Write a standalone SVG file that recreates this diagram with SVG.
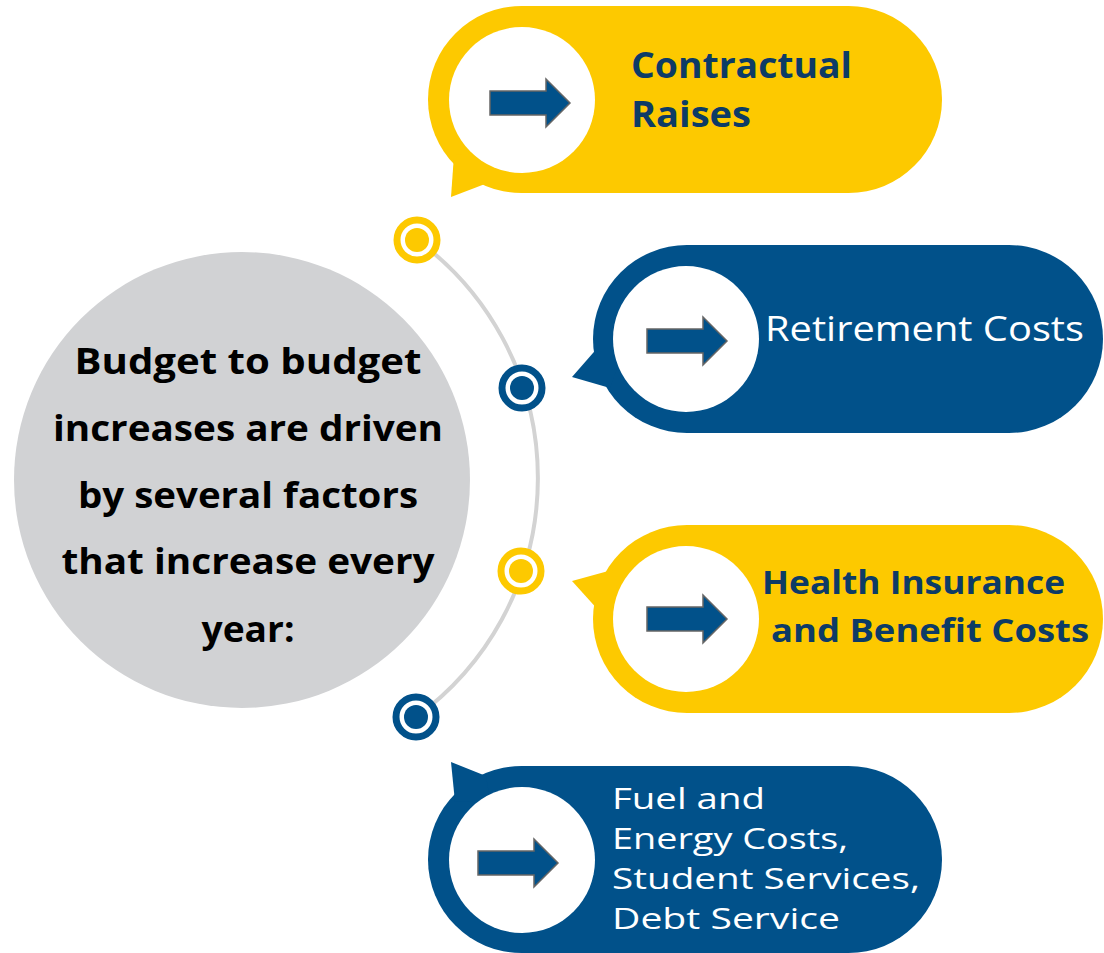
<svg xmlns="http://www.w3.org/2000/svg" xmlns:xlink="http://www.w3.org/1999/xlink" width="1104" height="953" viewBox="0 0 1104 953">
<style>
.yel{fill:#fdc900}
.blu{fill:#01518a}
.wc{fill:#ffffff}
.arc{fill:none;stroke:#d3d3d3;stroke-width:4}
.ring-y{fill:#ffffff;stroke:#fdc900;stroke-width:7}
.ring-b{fill:#ffffff;stroke:#01518a;stroke-width:7}
.dot-y{fill:#fdc900}
.dot-b{fill:#01518a}
.main{font-family:"Open Sans","Liberation Sans",sans-serif;font-weight:700;font-size:36px;fill:#000000}
.tb{font-family:"Open Sans","Liberation Sans",sans-serif;font-weight:700;fill:#0d3b66}
.tw{font-family:"Open Sans","Liberation Sans",sans-serif;font-weight:400;fill:#ffffff}
</style>
<defs>
<path id="arrow" d="M0,-12 H56 V-24 L80,0 L56,24 V12 H0 Z" fill="#01518a" stroke="#666666" stroke-width="1.5"/>
</defs>
<rect width="1104" height="953" fill="#ffffff"/>

<g id="connectors">
<path class="arc" d="M417,240 A295,295 0 0 1 416,717"/>
</g>

<g id="center">
<circle cx="242" cy="480" r="228" fill="#d1d2d4"/>
<text class="main" x="248" y="374" text-anchor="middle" textLength="347" lengthAdjust="spacingAndGlyphs">Budget to budget</text>
<text class="main" x="248" y="441" text-anchor="middle" textLength="390" lengthAdjust="spacingAndGlyphs">increases are driven</text>
<text class="main" x="248" y="508" text-anchor="middle" textLength="340" lengthAdjust="spacingAndGlyphs">by several factors</text>
<text class="main" x="248" y="574" text-anchor="middle" textLength="373" lengthAdjust="spacingAndGlyphs">that increase every</text>
<text class="main" x="248" y="642" text-anchor="middle" textLength="93" lengthAdjust="spacingAndGlyphs">year:</text>
</g>

<g id="dots">
<circle class="ring-y" cx="417" cy="240" r="20"/><circle class="dot-y" cx="417" cy="240" r="12"/>
<circle class="ring-b" cx="522" cy="388" r="20"/><circle class="dot-b" cx="522" cy="388" r="12"/>
<circle class="ring-y" cx="521" cy="571" r="20"/><circle class="dot-y" cx="521" cy="571" r="12"/>
<circle class="ring-b" cx="416" cy="717" r="20"/><circle class="dot-b" cx="416" cy="717" r="12"/>
</g>

<g id="contractual">
<rect class="yel" x="428" y="6" width="514" height="187" rx="93.5"/>
<polygon class="yel" points="454,155 451,197 485,184 500,150"/>
<circle class="wc" cx="522" cy="100" r="73"/>
<use xlink:href="#arrow" x="490" y="103"/>
<text class="tb" font-size="36" x="631" y="78" textLength="221" lengthAdjust="spacingAndGlyphs">Contractual</text>
<text class="tb" font-size="36" x="631" y="127" textLength="120" lengthAdjust="spacingAndGlyphs">Raises</text>
</g>

<g id="retirement">
<rect class="blu" x="593" y="245" width="510" height="188" rx="94"/>
<polygon class="blu" points="600,345 572,377 610,388 620,360"/>
<circle class="wc" cx="686" cy="339" r="73"/>
<use xlink:href="#arrow" x="647" y="341"/>
<text class="tw" font-size="34" x="765" y="341" textLength="319" lengthAdjust="spacingAndGlyphs">Retirement Costs</text>
</g>

<g id="health">
<rect class="yel" x="593" y="525" width="510" height="188" rx="94"/>
<polygon class="yel" points="612,570 572,581 600,612 620,600"/>
<circle class="wc" cx="686" cy="619" r="73"/>
<use xlink:href="#arrow" x="647" y="619"/>
<text class="tb" font-size="32" x="762" y="594" textLength="303" lengthAdjust="spacingAndGlyphs">Health Insurance</text>
<text class="tb" font-size="32" x="771" y="642" textLength="318" lengthAdjust="spacingAndGlyphs">and Benefit Costs</text>
</g>

<g id="fuel">
<rect class="blu" x="428" y="766" width="514" height="187" rx="93.5"/>
<polygon class="blu" points="455,802 451,762 486,776 490,800"/>
<circle class="wc" cx="522" cy="860" r="73"/>
<use xlink:href="#arrow" x="478" y="863"/>
<text class="tw" font-size="29" x="612" y="809" textLength="153" lengthAdjust="spacingAndGlyphs">Fuel and</text>
<text class="tw" font-size="29" x="612" y="849" textLength="236" lengthAdjust="spacingAndGlyphs">Energy Costs,</text>
<text class="tw" font-size="29" x="612" y="889" textLength="308" lengthAdjust="spacingAndGlyphs">Student Services,</text>
<text class="tw" font-size="29" x="612" y="929" textLength="228" lengthAdjust="spacingAndGlyphs">Debt Service</text>
</g>
</svg>
